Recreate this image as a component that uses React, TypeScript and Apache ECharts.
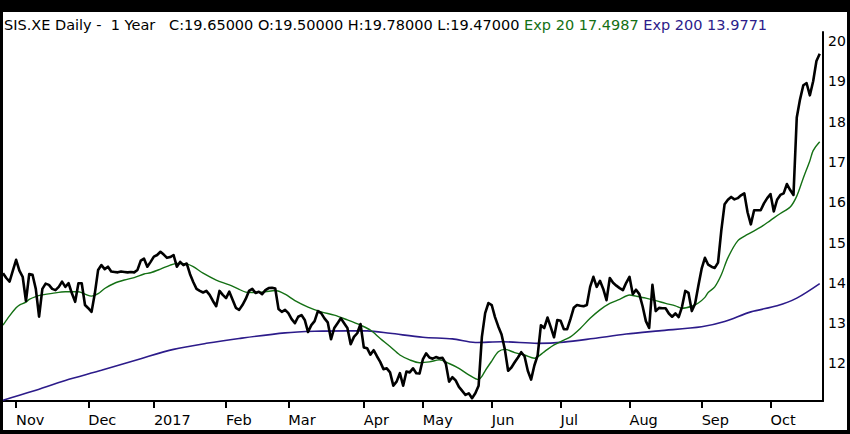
import React, { useEffect, useRef } from "react";
import * as echarts from "echarts";

// Month labels on the time axis and the number of trading days in each month
const monthNames = ["Oct", "Nov", "Dec", "2017", "Feb", "Mar", "Apr", "May", "Jun", "Jul", "Aug", "Sep", "Oct"];
const monthDays = [4, 22, 20, 22, 19, 23, 18, 21, 21, 21, 22, 21, 16];

// Daily closing prices
const prices = [
  14.24, 14.12, 14.03, 14.3, 14.57, 14.3, 14.15, 13.55, 14.22, 14.2,
  13.85, 13.16, 13.85, 13.98, 13.95, 13.85, 13.82, 13.9, 14.03, 13.9,
  13.99, 13.74, 13.53, 13.99, 13.99, 13.45, 13.37, 13.28, 13.74, 14.32,
  14.44, 14.34, 14.4, 14.28, 14.27, 14.26, 14.28, 14.27, 14.26, 14.27,
  14.26, 14.32, 14.55, 14.6, 14.4, 14.52, 14.65, 14.69, 14.77, 14.7,
  14.62, 14.64, 14.69, 14.4, 14.52, 14.44, 14.48, 14.22, 14.02, 13.85,
  13.8, 13.76, 13.8, 13.7, 13.55, 13.42, 13.8, 13.7, 13.62, 13.78,
  13.58, 13.38, 13.33, 13.45, 13.6, 13.8, 13.85, 13.75, 13.78, 13.72,
  13.82, 13.87, 13.88, 13.86, 13.35, 13.28, 13.33, 13.25, 13.1, 13.0,
  13.16, 13.2, 13.08, 12.78, 12.95, 13.05, 13.3, 13.25, 13.12, 13.02,
  12.6, 12.88, 13.0, 13.12, 13.0, 12.88, 12.48, 12.66, 12.75, 12.98,
  12.4, 12.38, 12.22, 12.33, 12.18, 12.04, 11.86, 11.88, 11.78, 11.45,
  11.55, 11.76, 11.45, 11.8, 11.78, 11.88, 11.76, 11.75, 12.1, 12.25,
  12.15, 12.12, 12.16, 12.13, 12.14, 12.0, 11.55, 11.66, 11.58, 11.42,
  11.32, 11.22, 11.26, 11.14, 11.26, 11.45, 12.66, 13.25, 13.5, 13.45,
  13.15, 12.92, 12.72, 12.35, 11.82, 11.9, 12.03, 12.15, 12.28, 12.18,
  11.82, 11.6, 11.95, 12.2, 12.95, 12.88, 13.14, 12.9, 12.65, 13.08,
  13.06, 12.85, 12.85, 13.1, 13.38, 13.45, 13.43, 13.42, 13.45, 13.9,
  14.15, 13.9, 14.05, 13.85, 13.57, 14.12, 14.0, 13.93, 13.87, 13.82,
  14.0, 14.15, 13.72, 13.83, 13.72, 13.42, 13.05, 12.88, 13.95, 13.3,
  13.38, 13.37, 13.37, 13.24, 13.16, 13.24, 13.15, 13.4, 13.8, 13.75,
  13.3, 13.48, 13.93, 14.35, 14.62, 14.45, 14.4, 14.37, 14.5, 15.3,
  15.95, 16.06, 16.13, 16.07, 16.1, 16.17, 16.22, 15.75, 15.45, 15.8,
  15.8, 15.8, 15.97, 16.1, 16.2, 15.77, 16.06, 16.18, 16.22, 16.45,
  16.3, 16.18, 18.1, 18.55, 18.9, 18.95, 18.65, 19.0, 19.5, 19.68,
];

// Exp 20 moving average, read at [day index, value]
const ema20 = [
  [0, 12.95], [2, 13.18], [4, 13.38], [5, 13.45], [7, 13.52], [8, 13.59], [10, 13.66], [12, 13.7],
  [15, 13.74], [19, 13.78], [23, 13.78], [25, 13.72], [27, 13.67], [29, 13.73], [31, 13.86], [34, 13.99],
  [37, 14.07], [40, 14.13], [43, 14.22], [45, 14.25], [48, 14.34], [51, 14.44], [53, 14.48], [56, 14.47],
  [58, 14.4], [61, 14.24], [65, 14.07], [69, 13.95], [72, 13.84], [74, 13.77], [77, 13.76], [80, 13.78],
  [83, 13.81], [86, 13.72], [89, 13.56], [93, 13.4], [97, 13.28], [101, 13.2], [105, 13.08], [109, 12.95],
  [112, 12.83], [115, 12.62], [118, 12.42], [121, 12.21], [124, 12.09], [127, 12.02], [130, 12.04], [133, 12.09],
  [136, 12.0], [139, 11.88], [142, 11.72], [145, 11.6], [146, 11.68], [147, 11.82], [149, 12.06], [151, 12.29],
  [153, 12.35], [156, 12.27], [159, 12.21], [162, 12.13], [165, 12.29], [168, 12.46], [171, 12.58], [173, 12.66],
  [176, 12.87], [179, 13.12], [182, 13.33], [185, 13.49], [188, 13.59], [191, 13.7], [193, 13.67], [196, 13.62],
  [199, 13.56], [202, 13.49], [205, 13.43], [207, 13.37], [210, 13.42], [212, 13.5], [214, 13.64], [215, 13.76],
  [217, 13.9], [219, 14.2], [221, 14.62], [224, 15.04], [227, 15.2], [231, 15.38], [234, 15.55], [237, 15.72],
  [240, 15.88], [242, 16.15], [244, 16.6], [246, 17.03], [247, 17.28], [249, 17.5],
];

// Exp 200 moving average, read at [day index, value]
const ema200 = [
  [0, 11.09], [9, 11.31], [19, 11.58], [30, 11.83], [42, 12.12], [52, 12.35], [62, 12.5], [72, 12.62],
  [86, 12.76], [95, 12.8], [105, 12.81], [111, 12.81], [118, 12.75], [128, 12.65], [137, 12.61], [144, 12.52],
  [152, 12.54], [163, 12.5], [171, 12.53], [180, 12.62], [190, 12.73], [200, 12.81], [213, 12.91], [220, 13.04],
  [228, 13.28], [236, 13.43], [242, 13.62], [249, 13.98],
];

// Right axis tick labels
const yTicks = [12, 13, 14, 15, 16, 17, 18, 19, 20];

const headerMain = "SIS.XE Daily -  1 Year   C:19.65000 O:19.50000 H:19.78000 L:19.47000 ";
const headerExp20 = "Exp 20 17.4987 ";
const headerExp200 = "Exp 200 13.9771";

const GREEN = "#147014";
const PURPLE = "#2c1b8a";
const FONT = "DejaVu Sans";

export default function App() {
  const ref = useRef<HTMLDivElement>(null);

  useEffect(() => {
    if (!ref.current) return;
    const chart = echarts.init(ref.current, undefined, { renderer: "svg" });

    const categories: string[] = [];
    monthNames.forEach((m, k) => {
      for (let d = 0; d < monthDays[k]; d++) categories.push(`${m}|${k}|${d}`);
    });
    categories.push("");

    const isMonthStart = (_i: number, v: string) => {
      const p = String(v).split("|");
      return p.length === 3 && p[2] === "0" && p[1] !== "0";
    };

    const headerStyle = (color: string) => ({
      color,
      fontFamily: FONT,
      fontSize: 14.5,
      fontWeight: "normal",
    });

    chart.setOption({
      animation: false,
      backgroundColor: "#ffffff",
      title: {
        left: 4,
        top: 17,
        padding: 0,
        text: `{k|${headerMain}}{g|${headerExp20}}{p|${headerExp200}}`,
        textStyle: {
          fontWeight: "normal",
          fontFamily: FONT,
          fontSize: 14.5,
          rich: {
            k: headerStyle("#000"),
            g: headerStyle(GREEN),
            p: headerStyle(PURPLE),
          },
        },
      },
      grid: { left: 3, right: 27, top: 32, bottom: 33, containLabel: false },
      xAxis: {
        type: "category",
        data: categories,
        boundaryGap: false,
        axisLine: { show: true, lineStyle: { color: "#000", width: 2 } },
        axisTick: { show: true, interval: isMonthStart, length: 7, lineStyle: { color: "#000", width: 2 } },
        axisLabel: {
          interval: isMonthStart,
          formatter: (v: string) => String(v).split("|")[0],
          color: "#000",
          fontFamily: FONT,
          fontSize: 14.5,
          align: "left",
          margin: 11,
        },
        splitLine: { show: false },
      },
      yAxis: {
        type: "value",
        position: "right",
        min: 11.07,
        max: 20.22,
        axisLine: { show: true, onZero: false, lineStyle: { color: "#000", width: 2 } },
        axisTick: { show: false },
        splitLine: { show: false },
        axisLabel: {
          customValues: yTicks,
          color: "#000",
          fontFamily: FONT,
          fontSize: 14,
          margin: 5,
        },
      },
      series: [
        {
          name: "Exp 200",
          type: "line",
          data: ema200,
          showSymbol: false,
          smooth: 0.3,
          lineStyle: { color: PURPLE, width: 1.6 },
          z: 2,
        },
        {
          name: "Exp 20",
          type: "line",
          data: ema20,
          showSymbol: false,
          smooth: 0.3,
          lineStyle: { color: GREEN, width: 1.4 },
          z: 3,
        },
        {
          name: "Price",
          type: "line",
          data: prices,
          showSymbol: false,
          lineStyle: { color: "#000", width: 2.6, join: "round" },
          z: 4,
        },
      ],
      graphic: [
        { type: "rect", shape: { x: 0, y: 0, width: 850, height: 12 }, style: { fill: "#000" }, z: 100 },
        { type: "rect", shape: { x: 0, y: 0, width: 3, height: 434 }, style: { fill: "#000" }, z: 100 },
        { type: "rect", shape: { x: 847, y: 0, width: 3, height: 434 }, style: { fill: "#000" }, z: 100 },
        { type: "rect", shape: { x: 0, y: 430, width: 850, height: 4 }, style: { fill: "#000" }, z: 100 },
      ],
    });

    return () => chart.dispose();
  }, []);

  return (
    <div
      ref={ref}
      style={{ position: "fixed", left: 0, top: 0, width: 850, height: 434 }}
    />
  );
}
